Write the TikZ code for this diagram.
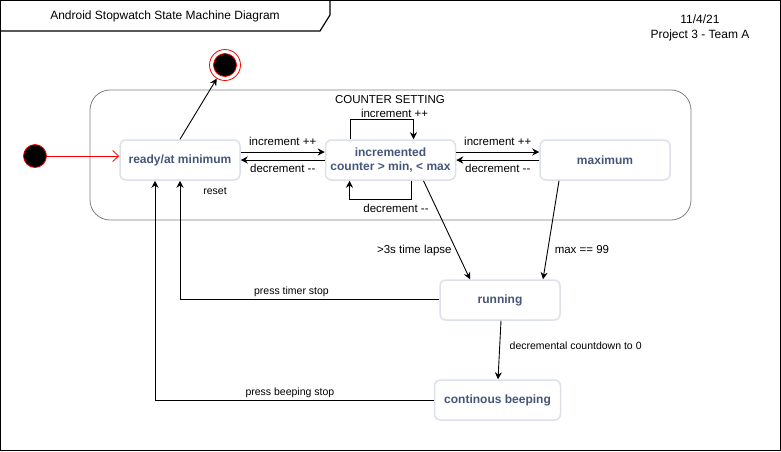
\documentclass[tikz,border=0pt]{standalone}
\usepackage{fontspec}
\setmainfont{Liberation Sans}
\usepackage{tikz}
\usetikzlibrary{arrows.meta}
\usetikzlibrary{positioning}
\definecolor{statetext}{RGB}{70,85,122}
\definecolor{stateline}{RGB}{220,224,232}
\definecolor{framegray}{RGB}{128,128,128}

\begin{document}
\begin{tikzpicture}[x=1pt,y=-1pt,
        state/.style={draw=stateline,line width=1.5pt,rounded corners=6pt,fill=white,minimum height=40pt,text=statetext,font=\fontsize{12}{14.5}\selectfont\bfseries,align=center},
        trans/.style={draw,line width=0.9pt,-{Stealth[length=7pt,width=7pt]}},
        lbl/.style={font=\fontsize{11.5}{14}\selectfont,inner sep=1.5pt},
        smalllbl/.style={font=\fontsize{10.5}{12}\selectfont,inner sep=1.5pt}]
        \useasboundingbox (0,0) rectangle (781,451);
        \draw[line width=1.2pt] (0.6,0.6) rectangle (780.4,450.4);
        \draw[line width=1.2pt] (0.6,31) -- (320,31) -- (330,15) -- (330,0.6);
        \node[lbl,font=\fontsize{12}{14}\selectfont] (title) at (165,16) {Android Stopwatch State Machine Diagram};
        \node[lbl,font=\fontsize{12}{15}\selectfont,align=center] (date) at (700,27.5) {11/4/21\\Project 3 - Team A};

        \node[draw=framegray,line width=0.8pt,rounded corners=20pt,minimum width=601pt,minimum height=130pt] (counter) at (390.5,155) {};
        \node[lbl] (counterlbl) at (390,100) {COUNTER SETTING};

        \node[state,minimum width=120pt] (ready) at (180,160) {ready/at minimum};
        \node[state,minimum width=130pt] (inc) at (390.5,160) {incremented\\counter > min, < max};
        \node[state,minimum width=130pt] (maximum) at (605,160) {maximum};
        \node[state,minimum width=120pt] (running) at (500,300) {running};
        \node[state,minimum width=126pt] (beeping) at (497.5,400) {continous beeping};

        \node[circle,fill=black,draw=red,line width=0.8pt,minimum size=23pt,inner sep=0pt] (start) at (35,156) {};
        \node[circle,draw=red,line width=0.8pt,minimum size=31pt,inner sep=0pt] (final) at (225,65) {};
        \node[circle,fill=black,draw=red,line width=0.8pt,minimum size=23pt,inner sep=0pt] (finaldot) at (225,65) {};

        \draw[red,line width=0.8pt,-{Straight Barb[length=6pt,width=11pt]}] (start) -- ([yshift=4pt]ready.west);
        \draw[trans] (ready.north) -- (final);

        \draw[trans] ([yshift=8pt]ready.east) -- node[lbl,above=4pt] (incA) {increment ++} ([yshift=8pt]inc.west);
        \draw[trans] (inc.west) -- node[lbl,below=2.5pt] (decA) {decrement -\kern0pt-} (ready.east);
        \draw[trans] ([yshift=8pt]inc.east) -- node[lbl,above=4pt] (incB) {increment ++} ([yshift=8pt]maximum.west);
        \draw[trans] (maximum.west) -- node[lbl,below=2.5pt] (decB) {decrement -\kern0pt-} (inc.east);

        \draw[trans] ([xshift=-40pt]inc.north) -- ++(0,-20) -- node[lbl,above,pos=0.7] (incloop) {increment ++} ++(63,0) -- ([xshift=23pt]inc.north);
        \draw[trans] ([xshift=21pt]inc.south) -- ++(0,19) -- node[lbl,below=2.5pt,pos=0.25] (decloop) {decrement -\kern0pt-} ++(-62,0) -- ([xshift=-41pt]inc.south);

        \draw[trans] ([xshift=33pt]inc.south) -- node[lbl,left=3pt,pos=0.71] (lapse) {>3s time lapse} ([xshift=-30pt]running.north);
        \draw[trans] ([xshift=-46pt]maximum.south) -- node[lbl,right=5pt,pos=0.7] (maxlbl) {max == 99} ([xshift=43pt]running.north);
        \draw[trans] ([xshift=1pt]running.south) -- node[smalllbl,right=8pt,pos=0.42] (countdown) {decremental countdown to 0} ([xshift=0.5pt]beeping.north);

        \draw[trans] ([yshift=1pt]running.west) -| node[smalllbl,above,pos=0.285] (timerstop) {press timer stop} (ready.south);
        \draw[trans] (beeping.west) -| node[smalllbl,above,pos=0.258] (beepstop) {press beeping stop} ([xshift=-25pt]ready.south);
        \node[smalllbl] (reset) at (215,191) {reset};
    \end{tikzpicture}
\end{document}
